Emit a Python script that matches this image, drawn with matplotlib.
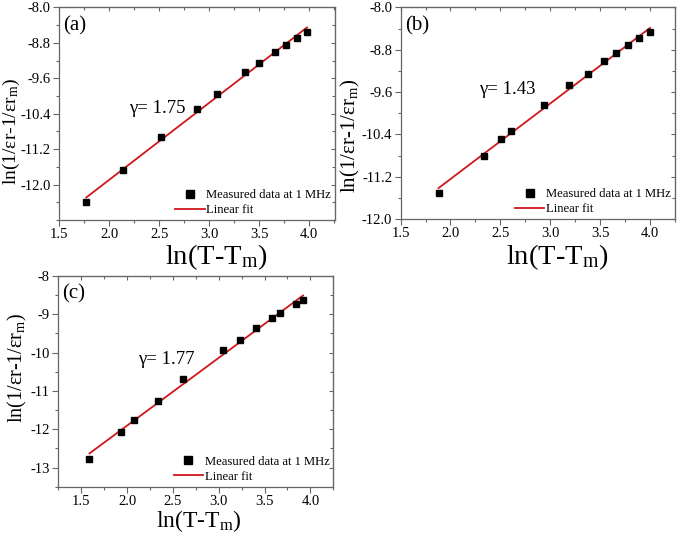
import numpy as np
import matplotlib
matplotlib.use("Agg")
import matplotlib.pyplot as plt
from matplotlib.ticker import FixedLocator

plt.rcParams['font.family'] = ['Liberation Serif', 'DejaVu Serif']
plt.rcParams['mathtext.fontset'] = 'custom'
plt.rcParams['mathtext.rm'] = 'Liberation Serif'
plt.rcParams['mathtext.it'] = 'Liberation Serif:italic'
plt.rcParams['axes.unicode_minus'] = False

# ---- data ----
xa = [1.77, 2.14, 2.52, 2.88, 3.08, 3.36, 3.50, 3.655, 3.77, 3.88, 3.98]
ya = [-12.40, -11.67, -10.93, -10.29, -9.95, -9.47, -9.25, -9.01, -8.84, -8.69, -8.55]

xb = [1.88, 2.34, 2.51, 2.61, 2.94, 3.19, 3.38, 3.54, 3.66, 3.78, 3.89, 4.00]
yb = [-11.50, -10.80, -10.49, -10.33, -9.84, -9.47, -9.25, -9.02, -8.87, -8.72, -8.58, -8.47]

xc = [1.59, 1.93, 2.08, 2.34, 2.61, 3.05, 3.23, 3.41, 3.58, 3.67, 3.84, 3.92]
yc = [-12.77, -12.08, -11.76, -11.26, -10.68, -9.93, -9.67, -9.37, -9.10, -8.97, -8.74, -8.63]

panel_labels = ['(a)', '(b)', '(c)']
gamma_texts = ['γ= 1.75', 'γ= 1.43', 'γ= 1.77']
legend_labels = ['Measured data at 1 MHz', 'Linear fit']

xticks_ab = [1.5, 2.0, 2.5, 3.0, 3.5, 4.0]
yticks_a = [-8.0, -8.8, -9.6, -10.4, -11.2, -12.0]
yticks_b = [-8.0, -8.8, -9.6, -10.4, -11.2, -12.0]
yticks_c = [-8, -9, -10, -11, -12, -13]

fig = plt.figure(figsize=(6.79, 5.37), dpi=100)

spine_col = '#666666'
red = '#d0161b'

def make_panel(rect, x, y, xlim, ylim, yticks, ymin_step, yfmt, plabel, gtext, gpos,
               xl_size, yl_size, xl_coords, yl_coords):
    ax = fig.add_axes(rect)
    coef = np.polyfit(x, y, 1)
    xf = np.array([min(x), max(x)])
    ax.plot(x, y, ls='none', marker='s', ms=4.8, color='black', label=legend_labels[0], zorder=3)
    ax.plot(xf, np.polyval(coef, xf), color=red, lw=1.3, label=legend_labels[1], zorder=2)
    ax.set_xlim(*xlim)
    ax.set_ylim(*ylim)
    ax.set_xticks(xticks_ab)
    ax.set_xticklabels([f'{v:.1f}' for v in xticks_ab])
    ax.set_yticks(yticks)
    ax.set_yticklabels([yfmt.format(v) for v in yticks])
    xmin = np.arange(xlim[0] - (xlim[0] % 0.25), xlim[1] + 0.001, 0.25)
    ax.xaxis.set_minor_locator(FixedLocator(xmin))
    ymin = np.arange(ylim[0], ylim[1] + 1e-6, ymin_step)
    ax.yaxis.set_minor_locator(FixedLocator(ymin))
    ax.tick_params(which='major', direction='out', length=4, width=0.8, color=spine_col,
                   labelsize=10.5, pad=2)
    ax.tick_params(which='minor', direction='out', length=2.5, width=0.8, color=spine_col)
    for s in ax.spines.values():
        s.set_color(spine_col)
        s.set_linewidth(0.9)
    # mirrored inward ticks on top and right
    secx = ax.secondary_xaxis('top')
    secx.set_xticks(xticks_ab)
    secx.xaxis.set_minor_locator(FixedLocator(xmin))
    secx.tick_params(which='both', direction='in', labeltop=False, color=spine_col, width=0.8)
    secx.tick_params(which='major', length=3)
    secx.tick_params(which='minor', length=2)
    secx.spines['top'].set_color(spine_col)
    secy = ax.secondary_yaxis('right')
    secy.set_yticks(yticks)
    secy.yaxis.set_minor_locator(FixedLocator(ymin))
    secy.tick_params(which='both', direction='in', labelright=False, color=spine_col, width=0.8)
    secy.tick_params(which='major', length=3)
    secy.tick_params(which='minor', length=2)
    secy.spines['right'].set_color(spine_col)

    ax.set_xlabel(r'ln(T-T$_\mathrm{m}$)', fontsize=xl_size)
    ax.set_ylabel(r'ln(1/εr-1/εr$_\mathrm{m}$)', fontsize=yl_size)
    ax.xaxis.set_label_coords(*xl_coords)
    ax.yaxis.set_label_coords(*yl_coords)
    ax.text(0.015, 0.915, plabel, transform=ax.transAxes, fontsize=15, va='center', ha='left')
    ax.text(gpos[0], gpos[1], gtext, fontsize=13.5, va='center', ha='left')
    ax.legend(loc='lower right', frameon=False, fontsize=9.1, handlelength=2.3,
              handletextpad=0.15, borderaxespad=0.1, borderpad=0.2, labelspacing=0.25,
              markerscale=1.25)
    return ax

make_panel([0.0873, 0.5903, 0.406, 0.396], xa, ya, (1.5, 4.26), (-12.8, -8.0),
           yticks_a, 0.4, '{:.1f}', panel_labels[0], gamma_texts[0], (2.2, -10.28),
           20.5, 14, (0.568, -0.105), (-0.137, 0.418))
make_panel([0.590, 0.5922, 0.404, 0.394], xb, yb, (1.5, 4.25), (-12.0, -8.0),
           yticks_b, 0.4, '{:.1f}', panel_labels[1], gamma_texts[1], (2.29, -9.56),
           20.5, 15, (0.57, -0.11), (-0.142, 0.392))
make_panel([0.0859, 0.0937, 0.405, 0.3923], xc, yc, (1.25, 4.25), (-13.5, -8.0),
           yticks_c, 0.5, '{:.0f}', panel_labels[2], gamma_texts[2], (2.12, -10.19),
           17, 14.5, (0.51, -0.1), (-0.107, 0.563))

fig.savefig('out.png', dpi=100)
